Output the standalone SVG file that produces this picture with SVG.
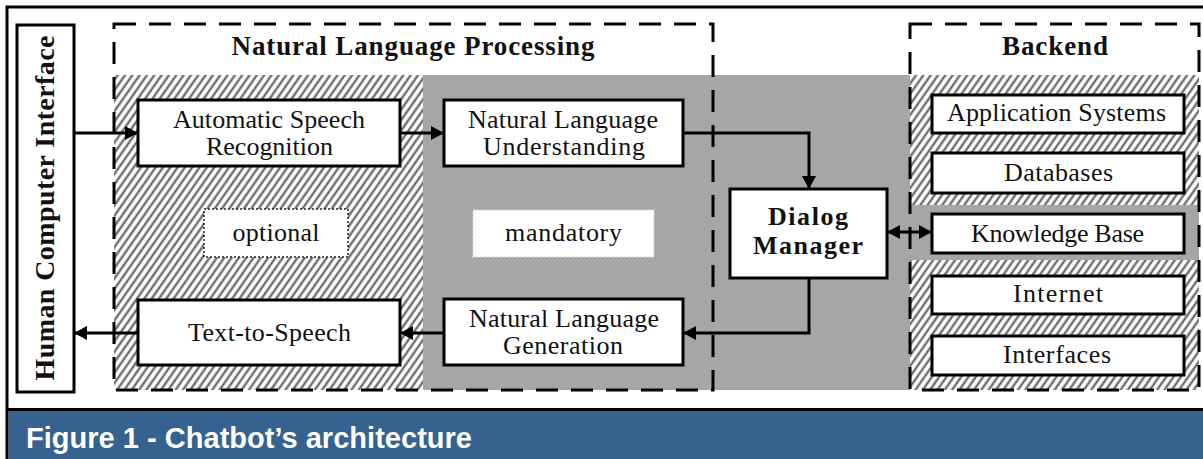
<svg xmlns="http://www.w3.org/2000/svg" width="1203" height="459" viewBox="0 0 1203 459">
<style>
.node{fill:#fff;stroke:#000;stroke-width:3}
.t{font-family:"Liberation Serif",serif;font-size:26px;fill:#111;text-anchor:middle}
.b{font-family:"Liberation Serif",serif;font-weight:bold;fill:#111;text-anchor:middle}
.dash{fill:none;stroke:#000;stroke-width:3;stroke-dasharray:22 13}
.con{fill:none;stroke:#000;stroke-width:3}
</style>
<defs>
<pattern id="hatch" patternUnits="userSpaceOnUse" width="6" height="10" patternTransform="rotate(35)">
<rect width="6" height="10" fill="#fff"/>
<line x1="1.5" y1="0" x2="1.5" y2="10" stroke="#5a5a5a" stroke-width="2.1"/>
</pattern>
<marker id="arr" markerUnits="userSpaceOnUse" markerWidth="14" markerHeight="14" refX="13" refY="7" orient="auto-start-reverse" viewBox="0 0 14 14">
<path d="M0,0 L13,7 L0,14 z" fill="#000"/>
</marker>
</defs>
<rect width="1203" height="459" fill="#fff"/>
<g id="frame">
<rect x="8.5" y="410.5" width="1195" height="49" fill="#35628f"/>
<path d="M7,459 V7 H1203 M7,409.5 H1203" fill="none" stroke="#000" stroke-width="3"/>
<text x="26" y="448" font-family="'Liberation Sans',Arial,sans-serif" font-weight="bold" font-size="29" fill="#fff" textLength="446">Figure 1 - Chatbot’s architecture</text>
</g>
<g id="regions">
<rect x="114" y="75" width="309" height="315" fill="url(#hatch)"/>
<rect x="423" y="75" width="487" height="315" fill="#a6a6a6"/>
<rect x="910" y="75" width="289" height="315" fill="url(#hatch)"/>
<rect x="910" y="205" width="289" height="55" fill="#a6a6a6"/>
</g>
<g id="nlp-group">
<rect class="dash" x="114" y="24" width="599" height="366"/>
<text class="b" x="413" y="55" font-size="27" textLength="363">Natural Language Processing</text>
</g>
<g id="backend-group">
<rect class="dash" x="910" y="24" width="289" height="366"/>
<text class="b" x="1055" y="55" font-size="27" textLength="106">Backend</text>
</g>
<g id="optional">
<rect x="204" y="209" width="144" height="48" fill="#fff" stroke="#222" stroke-width="1.5" stroke-dasharray="2 2"/>
<text class="t" x="276" y="241" textLength="87">optional</text>
</g>
<g id="mandatory">
<rect x="473" y="210" width="181" height="47" fill="#fff" stroke="#d8d8d8" stroke-width="1.5" stroke-dasharray="2 2"/>
<text class="t" x="563.5" y="241" textLength="117">mandatory</text>
</g>
<g id="connectors">
<path class="con" d="M74,133 H138" marker-end="url(#arr)"/>
<path class="con" d="M400,133 H444" marker-end="url(#arr)"/>
<path class="con" d="M683,133 H809 V189" marker-end="url(#arr)"/>
<path class="con" d="M809,278 V333 H683" marker-end="url(#arr)"/>
<path class="con" d="M444,333 H400" marker-end="url(#arr)"/>
<path class="con" d="M138,333 H74" marker-end="url(#arr)"/>
<path class="con" d="M887,232 H932" marker-start="url(#arr)" marker-end="url(#arr)"/>
</g>
<g id="hci">
<rect class="node" x="17" y="25" width="57" height="367"/>
<text class="b" font-size="28" transform="translate(54,208) rotate(-90)" x="0" y="0" textLength="345">Human Computer Interface</text>
</g>
<g id="asr">
<rect class="node" x="138" y="100" width="262" height="66"/>
<text class="t" x="269" y="128" textLength="192">Automatic Speech</text>
<text class="t" x="269.5" y="155" textLength="127">Recognition</text>
</g>
<g id="nlu">
<rect class="node" x="444" y="100" width="239" height="66"/>
<text class="t" x="563" y="128" textLength="190">Natural Language</text>
<text class="t" x="564" y="155" textLength="162">Understanding</text>
</g>
<g id="dm">
<rect class="node" x="730" y="189" width="157" height="89"/>
<text class="b" x="808" y="225" font-size="26" textLength="80">Dialog</text>
<text class="b" x="808" y="254" font-size="26" textLength="110">Manager</text>
</g>
<g id="nlg">
<rect class="node" x="444" y="299" width="239" height="66"/>
<text class="t" x="564" y="327" textLength="190">Natural Language</text>
<text class="t" x="563" y="354" textLength="120">Generation</text>
</g>
<g id="tts">
<rect class="node" x="138" y="300" width="262" height="65"/>
<text class="t" x="269.5" y="341" textLength="163">Text-to-Speech</text>
</g>
<g id="app-systems">
<rect class="node" x="932" y="95" width="252" height="38"/>
<text class="t" x="1056.5" y="121" textLength="219">Application Systems</text>
</g>
<g id="databases">
<rect class="node" x="932" y="153" width="252" height="40"/>
<text class="t" x="1058.5" y="181" textLength="109">Databases</text>
</g>
<g id="knowledge-base">
<rect class="node" x="932" y="214" width="252" height="39"/>
<text class="t" x="1057.5" y="242" textLength="173">Knowledge Base</text>
</g>
<g id="internet">
<rect class="node" x="932" y="276" width="252" height="38"/>
<text class="t" x="1058" y="302" textLength="90">Internet</text>
</g>
<g id="interfaces">
<rect class="node" x="932" y="336" width="252" height="39"/>
<text class="t" x="1057" y="363" textLength="108">Interfaces</text>
</g>
</svg>
